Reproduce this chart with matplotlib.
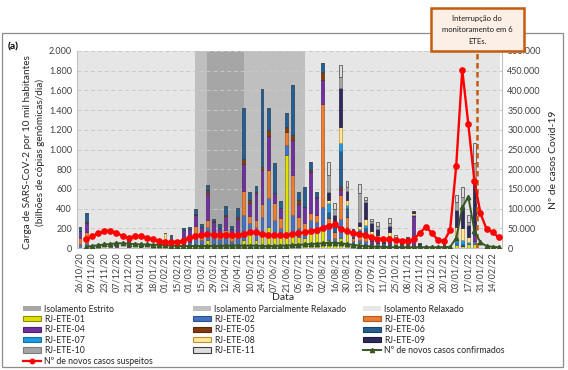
import numpy as np
import matplotlib
matplotlib.use("Agg")
import matplotlib.pyplot as plt
from matplotlib.patches import Rectangle, Patch
from matplotlib.lines import Line2D
from matplotlib.ticker import FuncFormatter, MultipleLocator

plt.rcParams['font.family'] = ['Lato', 'DejaVu Sans']

nan = np.nan

# weekly categories (26/10/20 ... 21/02/22), labels every 2 weeks
tick_labels = ["26/10/20", "09/11/20", "23/11/20", "07/12/20", "21/12/20", "04/01/21",
               "18/01/21", "01/02/21", "15/02/21", "01/03/21", "15/03/21", "29/03/21",
               "12/04/21", "26/04/21", "10/05/21", "24/05/21", "07/06/21", "21/06/21",
               "05/07/21", "19/07/21", "02/08/21", "16/08/21", "30/08/21", "13/09/21",
               "27/09/21", "11/10/21", "25/10/21", "08/11/21", "22/11/21", "06/12/21",
               "20/12/21", "03/01/22", "17/01/22", "31/01/22", "14/02/22"]
n_weeks = 70

# viral load per ETE (billions of genomic copies / day per 10k inhabitants)
ete01 = [0, 0, 0, 0, 0, 0, 0, 0, 0, 0,
         0, 0, 0, 0, 30, 0, 0, 0, 0, 30,
         20, 81, 30, 30, 30, 20, 30, 81, 150, 81,
         165, 216, 149, 115, 941, 149, 115, 98, 149, 149,
         200, 81, 34, 102, 149, 43, 46, 31, 14, 17,
         0, 11, 0, 0, 0, 0, 0, 0, 0, 0,
         0, 0, 30, 21, 40, 36, 0, 0, 0, 0]
ete02 = [40, 50, 0, 10, 0, 10, 0, 0, 8, 0,
         10, 0, 10, 0, 50, 40, 0, 40, 60, 120,
         60, 135, 70, 60, 80, 50, 70, 254, 101, 135,
         150, 287, 135, 85, 101, 186, 85, 85, 135, 118,
         220, 135, 70, 190, 68, 30, 40, 40, 10, 30,
         20, 20, 20, 20, 18, 20, 0, 0, 0, 0,
         0, 0, 17, 0, 0, 30, 0, 0, 0, 0]
ete03 = [60, 110, 0, 0, 0, 10, 0, 0, 0, 0,
         0, 0, 10, 0, 0, 40, 0, 0, 0, 70,
         50, 68, 50, 50, 70, 40, 60, 247, 74, 68,
         135, 287, 169, 101, 135, 406, 118, 68, 68, 68,
         1047, 85, 60, 250, 101, 30, 40, 40, 20, 0,
         0, 0, 0, 0, 0, 0, 0, 0, 0, 0,
         0, 0, 0, 0, 0, 0, 0, 0, 0, 0]
ete04 = [70, 90, 0, 10, 0, 10, 20, 0, 70, 0,
         0, 0, 0, 0, 0, 0, 0, 140, 130, 110,
         80, 270, 110, 60, 140, 80, 130, 271, 128, 271,
         340, 345, 101, 101, 0, 355, 128, 169, 423, 169,
         237, 0, 0, 50, 0, 0, 0, 30, 30, 0,
         0, 30, 0, 0, 0, 300, 0, 0, 0, 0,
         0, 0, 0, 0, 0, 68, 0, 0, 0, 0]
ete05 = [0, 10, 0, 0, 0, 0, 0, 0, 0, 0,
         0, 0, 0, 0, 0, 0, 0, 0, 0, 20,
         0, 34, 10, 0, 15, 0, 20, 47, 34, 17,
         35, 61, 5, 0, 51, 51, 41, 0, 17, 17,
         85, 0, 0, 30, 0, 0, 0, 0, 0, 0,
         0, 0, 0, 0, 0, 0, 0, 0, 0, 0,
         0, 0, 0, 0, 0, 0, 0, 0, 0, 0]
ete06 = [40, 100, 0, 0, 0, 0, 0, 0, 30, 0,
         10, 0, 10, 0, 0, 48, 0, 26, 26, 42,
         34, 48, 28, 44, 95, 37, 93, 518, 85, 57,
         786, 230, 304, 78, 142, 507, 85, 203, 85, 44,
         85, 68, 60, 362, 85, 30, 50, 60, 40, 40,
         20, 40, 20, 20, 30, 20, 20, 0, 0, 0,
         0, 0, 0, 20, 0, 30, 0, 0, 0, 0]
ete07 = [0, 0, 0, 0, 0, 0, 0, 0, 0, 0,
         0, 0, 0, 0, 0, 0, 0, 0, 0, 0,
         0, 0, 0, 0, 0, 0, 0, 0, 0, 0,
         0, 0, 0, 0, 0, 0, 0, 0, 0, 0,
         0, 85, 30, 85, 34, 0, 20, 30, 20, 20,
         10, 20, 0, 0, 10, 0, 0, 0, 0, 0,
         10, 0, 34, 41, 24, 20, 0, 0, 0, 0]
ete08 = [0, 0, 0, 0, 0, 0, 0, 0, 0, 0,
         0, 0, 0, 0, 70, 0, 0, 0, 0, 0,
         0, 0, 0, 0, 0, 0, 0, 0, 0, 0,
         0, 0, 0, 0, 0, 0, 0, 0, 0, 0,
         0, 34, 20, 156, 51, 20, 30, 60, 40, 30,
         0, 40, 20, 0, 0, 16, 0, 0, 0, 0,
         0, 0, 135, 118, 51, 0, 0, 0, 0, 0]
ete09 = [0, 0, 0, 0, 0, 0, 0, 0, 0, 0,
         0, 0, 0, 0, 0, 0, 0, 0, 0, 0,
         0, 0, 0, 0, 0, 0, 0, 0, 0, 0,
         0, 0, 0, 0, 0, 0, 0, 0, 0, 0,
         0, 85, 60, 396, 95, 40, 40, 180, 80, 60,
         30, 60, 40, 20, 50, 20, 30, 0, 0, 0,
         30, 0, 169, 220, 118, 490, 0, 0, 0, 0]
ete10 = [0, 0, 0, 0, 0, 0, 0, 0, 0, 0,
         0, 0, 0, 0, 0, 0, 0, 0, 0, 0,
         0, 0, 0, 0, 0, 0, 0, 0, 0, 0,
         0, 0, 0, 0, 0, 0, 0, 0, 0, 0,
         0, 169, 60, 118, 34, 0, 290, 20, 20, 30,
         0, 30, 0, 0, 0, 0, 0, 0, 0, 0,
         0, 0, 78, 101, 34, 186, 0, 0, 0, 0]
ete11 = [0, 0, 0, 0, 0, 0, 0, 0, 0, 0,
         0, 0, 0, 0, 0, 0, 0, 0, 0, 0,
         0, 0, 0, 0, 0, 0, 0, 0, 0, 0,
         0, 0, 0, 0, 0, 0, 0, 0, 0, 0,
         0, 135, 60, 118, 68, 0, 90, 30, 20, 40,
         0, 50, 30, 0, 0, 0, 0, 0, 0, 0,
         0, 0, 75, 101, 68, 203, 0, 0, 0, 0]

# new Covid-19 cases (right axis)
suspeitos = [nan, 22000, 30000, 37000, 43000, 44000, 39000, 30000, 26000, 30000,
             30000, 26000, 22000, 18000, 14000, 15000, 16000, 18000, 25000, 30000,
             33000, 36000, 33000, 33000, 34000, 32000, 33000, 36000, 40000, 40000,
             36000, 33000, 32000, 32000, 33000, 35000, 37000, 40000, 42000, 46000,
             52000, 57000, 60000, 48000, 42000, 37000, 35000, 34000, 28000, 24000,
             22000, 22000, 20000, 19000, 19000, 22000, 38000, 54000, 38000, 20000,
             17000, 46000, 208000, 452000, 314000, 170000, 88000, 48000, 40000, 27000]
confirmados = [nan, 3000, 5000, 7000, 9000, 10000, 12000, 12000, 11000, 10000,
               9000, 9000, 8000, 8000, 7000, 6000, 5000, 5000, 5000, 5000,
               5000, 5000, 5000, 5000, 6000, 6000, 6000, 6000, 6000, 6000,
               5000, 5000, 5000, 6000, 6000, 7000, 8000, 9000, 10000, 11000,
               12000, 13000, 13000, 12000, 10000, 8000, 6000, 5000, 4000, 3000,
               3000, 2000, 2000, 2000, 2000, 2000, 2000, 2000, 2000, 2000,
               2000, 3000, 25000, 103000, 130000, 44000, 14000, 5000, 3000, 2000]

# isolation periods (week index)
parcial_periods = [(19, 21), (27, 37)]
estrito_periods = [(21, 27)]
interrupcao = 65.45

series = [ete01, ete02, ete03, ete04, ete05, ete06, ete07, ete08, ete09, ete10, ete11]
names = ["RJ-ETE-%02d" % i for i in range(1, 12)]
faces = ['#e0e000', '#4472c4', '#ed7d31', '#7030a0', '#843c0c', '#255e91',
         '#1f9be0', '#ffe699', '#302a5c', '#a5a5a5', '#dedede']
edges = ['#8c8c00', '#2f528f', '#ae5a21', '#4e2270', '#5c2a08', '#1a4266',
         '#1570a3', '#bf9030', '#1e1a3c', '#7b7b7b', '#404040']

fmt = FuncFormatter(lambda v, p: f"{int(v):,}".replace(",", "."))

fig = plt.figure(figsize=(5.68, 3.70), dpi=100)
W, H = 568, 370
ax = fig.add_axes([77 / W, 1 - 248 / H, (501.7 - 77) / W, (248 - 51) / H])

x = np.arange(n_weeks)
ax.axvspan(-0.5, 69.2, color='#e6e6e6', lw=0, zorder=0)
for a, b in parcial_periods:
    ax.axvspan(a, b, color='#bfbfbf', lw=0, zorder=0)
for a, b in estrito_periods:
    ax.axvspan(a, b, color='#a6a6a6', lw=0, zorder=0)

bottom = np.zeros(n_weeks)
for vals, fc, ec in zip(series, faces, edges):
    v = np.array(vals, dtype=float)
    ax.bar(x, v, width=0.47, bottom=bottom, color=fc, edgecolor=ec, linewidth=0.5, zorder=2)
    bottom += v

ax.set_xlim(-0.5, n_weeks - 0.5)
ax.set_ylim(0, 2000)
ax.yaxis.set_major_locator(MultipleLocator(200))
ax.yaxis.set_major_formatter(fmt)
ax.yaxis.grid(True, color='#c9c9c9', ls=(0, (4, 3)), lw=0.7)
ax.set_axisbelow(True)
ax.set_xticks(x[::2])
ax.set_xticklabels(tick_labels, rotation=90, fontsize=6.3, color='#404040')
ax.tick_params(length=0, labelsize=6.5, colors='#404040')
ax.tick_params(axis='x', pad=3)
for s in ['left', 'bottom', 'right']:
    ax.spines[s].set_color('#bfbfbf')
    ax.spines[s].set_linewidth(0.8)
ax.spines['top'].set_visible(False)

ax.axvline(interrupcao, color='#c55a11', ls=(0, (2.2, 1.4)), lw=1.8, zorder=3)

ax2 = ax.twinx()
ax2.set_ylim(0, 500000)
ax2.yaxis.set_major_locator(MultipleLocator(50000))
ax2.yaxis.set_major_formatter(fmt)
ax2.tick_params(length=0, labelsize=6.5, colors='#404040', pad=4)
for s in ax2.spines.values():
    s.set_visible(False)
ax2.plot(x, confirmados, color='#375623', lw=1.4, marker='^', ms=3.2, zorder=4)
ax2.plot(x, suspeitos, color='#ff0000', lw=1.7, marker='o', ms=3.8, zorder=5)

# axis titles
fig.text(28 / W, 1 - 152 / H, "Carga de SARS-CoV-2 por 10 mil habitantes", rotation=90,
         ha='center', va='center', fontsize=7.2, color='#262626')
fig.text(40 / W, 1 - 152 / H, "(bilhões de cópias genômicas/dia)", rotation=90,
         ha='center', va='center', fontsize=7.2, color='#262626')
fig.text(553 / W, 1 - 160 / H, "Nº de casos Covid-19", rotation=90,
         ha='center', va='center', fontsize=7.5, color='#262626')
fig.text(283 / W, 1 - 297 / H, "Data", ha='center', va='center', fontsize=7.5, color='#262626')
fig.text(8 / W, 1 - 47 / H, "(a)", ha='left', va='center', fontsize=7.5, fontweight='bold')

# outer frame
fig.add_artist(Rectangle((2 / W, 3 / H), 561 / W, 334 / H, transform=fig.transFigure,
                         fill=False, edgecolor='#8c8c8c', lw=0.9, zorder=1))

# annotation box
fig.add_artist(Rectangle((431 / W, 1 - 51 / H), 93 / W, 43 / H, transform=fig.transFigure,
                         facecolor='#fcefe6', edgecolor='#c55a11', lw=1.8, zorder=6))
for i, line in enumerate(["Interrupção do", "monitoramento em 6", "ETEs."]):
    fig.text(477 / W, 1 - (19 + 11 * i) / H, line, ha='center', va='center',
             fontsize=5.5, color='#1a1a1a', zorder=7)

# legend (three columns, filled row by row)
def ete_patch(i):
    return Patch(facecolor=faces[i], edgecolor=edges[i], linewidth=0.8, label=names[i])

col1 = [Patch(facecolor='#a6a6a6', label='Isolamento Estrito'), ete_patch(0), ete_patch(3),
        ete_patch(6), ete_patch(9),
        Line2D([], [], color='#ff0000', lw=1.6, marker='o', ms=3.2, label='Nº de novos casos suspeitos')]
col2 = [Patch(facecolor='#bfbfbf', label='Isolamento Parcialmente Relaxado'), ete_patch(1),
        ete_patch(4), ete_patch(7), ete_patch(10)]
col3 = [Patch(facecolor='#e6e6e6', label='Isolamento Relaxado'), ete_patch(2), ete_patch(5),
        ete_patch(8),
        Line2D([], [], color='#375623', lw=1.4, marker='^', ms=3, label='Nº de novos casos confirmados')]
for xs, handles in zip([23, 193, 363], [col1, col2, col3]):
    fig.legend(handles=handles, loc='upper left', bbox_to_anchor=(xs / W, 1 - 304.5 / H),
               frameon=False, fontsize=6.3, handlelength=2.1, handleheight=0.55,
               handletextpad=0.3, labelspacing=0.16, borderpad=0, borderaxespad=0,
               labelcolor='#262626')

fig.savefig("out.png", dpi=100)
